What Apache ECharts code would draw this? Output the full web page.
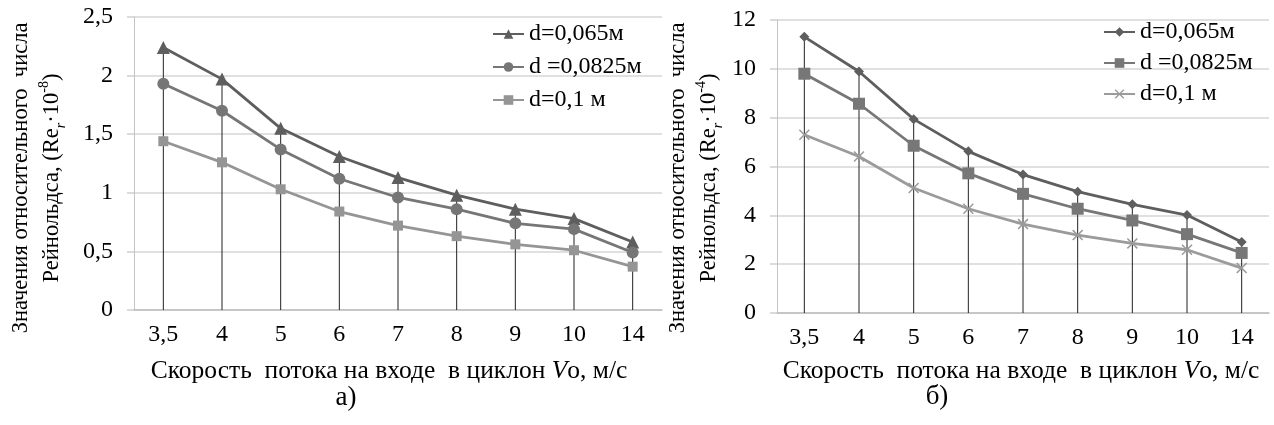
<!DOCTYPE html>
<html>
<head>
<meta charset="utf-8">
<script src="https://cdn.jsdelivr.net/npm/echarts@6/dist/echarts.min.js"></script>
<style>
html,body{margin:0;padding:0;background:#fff;}
#chart{width:1274px;height:425px;}
</style>
</head>
<body>
<div id="chart"></div>
<script>
// Categories: inlet flow velocity, m/s
const categories = ['3,5', '4', '5', '6', '7', '8', '9', '10', '14'];

// Chart a) Re·10^-8
const namesA = ['d=0,065м', 'd =0,0825м', 'd=0,1 м'];
const reA_d065  = [2.24, 1.97, 1.55, 1.31, 1.13, 0.98, 0.86, 0.78, 0.58];
const reA_d0825 = [1.93, 1.70, 1.37, 1.12, 0.96, 0.86, 0.74, 0.69, 0.49];
const reA_d01   = [1.44, 1.26, 1.03, 0.84, 0.72, 0.63, 0.56, 0.51, 0.37];
const yTicksA = ['0', '0,5', '1', '1,5', '2', '2,5'];

// Chart б) Re·10^-4
const namesB = ['d=0,065м ', 'd =0,0825м ', 'd=0,1 м '];
const reB_d065  = [11.31, 9.89, 7.94, 6.62, 5.67, 4.97, 4.45, 4.01, 2.91];
const reB_d0825 = [9.80, 8.57, 6.85, 5.72, 4.88, 4.27, 3.79, 3.23, 2.46];
const reB_d01   = [7.30, 6.41, 5.12, 4.27, 3.64, 3.19, 2.85, 2.59, 1.84];
const yTicksB = ['0', '2', '4', '6', '8', '10', '12'];

const FONT = 'Liberation Serif';
const crossPath = 'path://M0,1L1,0L5,4L9,0L10,1L6,5L10,9L9,10L5,6L1,10L0,9L4,5Z';

const chart = echarts.init(document.getElementById('chart'), null, {renderer: 'canvas'});

function xAxisCfg(gi) {
  return {
    type: 'category', gridIndex: gi, data: categories, boundaryGap: true,
    axisLine: {show: true, lineStyle: {color: '#bdbdbd', width: 1.5}},
    axisTick: {show: false},
    axisLabel: {color: '#000', fontFamily: FONT, fontSize: 24, margin: 13},
    splitLine: {show: false}
  };
}
function yAxisCfg(gi, max, interval, ticks) {
  return {
    type: 'value', gridIndex: gi, min: 0, max: max, interval: interval,
    axisLine: {show: true, lineStyle: {color: '#c4c4c4', width: 1}},
    axisTick: {show: true, inside: false, length: 7, lineStyle: {color: '#cfcfcf', width: 1.5}},
    axisLabel: {color: '#000', fontFamily: FONT, fontSize: 24, margin: 21,
      formatter: v => ticks[Math.round(v / interval)]},
    splitLine: {show: true, lineStyle: {color: '#d6d6d6', width: 1.5}}
  };
}
function lineSeries(name, data, gi, color, symbol, size) {
  return {
    type: 'line', name: name, data: data, xAxisIndex: gi, yAxisIndex: gi,
    symbol: symbol, symbolSize: size, showSymbol: true,
    lineStyle: {color: color, width: 2.8},
    itemStyle: {color: color},
    z: 3, animation: false
  };
}
function dropSeries(data, gi) {
  return {
    type: 'bar', name: 'drop' + gi, data: data, xAxisIndex: gi, yAxisIndex: gi,
    barWidth: 1, itemStyle: {color: '#222'}, z: 1, silent: true, animation: false
  };
}
const yTitleRich = {
  a: {fontFamily: FONT, fontSize: 22.5, color: '#000', lineHeight: 31},
  sub: {fontFamily: FONT, fontSize: 14, fontStyle: 'italic', color: '#000', verticalAlign: 'bottom', lineHeight: 31},
  sup: {fontFamily: FONT, fontSize: 14, color: '#000', verticalAlign: 'top', lineHeight: 31}
};
function yTitle(x, y, exp) {
  return {
    type: 'text', x: x, y: y, rotation: Math.PI / 2,
    style: {
      text: '{a|Значения относительного  числа}\n{a|Рейнольдса, (Re}{sub|r}{a|·10}{sup|' + exp + '}{a|)}',
      rich: yTitleRich, align: 'center', verticalAlign: 'middle'
    }
  };
}
function xTitle(x, y) {
  return {
    type: 'text', x: x, y: y,
    style: {
      text: '{n|Скорость  потока на входе  в циклон }{i|V}{n|o, м/с}',
      rich: {
        n: {fontFamily: FONT, fontSize: 25.5, color: '#000'},
        i: {fontFamily: FONT, fontSize: 25.5, fontStyle: 'italic', color: '#000'}
      },
      align: 'center', verticalAlign: 'middle'
    }
  };
}
function label(x, y, t) {
  return {type: 'text', x: x, y: y,
    style: {text: t, fontFamily: FONT, fontSize: 27, fill: '#000', align: 'center', verticalAlign: 'middle'}};
}

const legendText = {color: '#000', fontFamily: FONT, fontSize: 24, lineHeight: 24};

chart.setOption({
  backgroundColor: '#fff',
  animation: false,
  grid: [
    {left: 134, top: 17, width: 528, height: 293},
    {left: 777, top: 20, width: 492, height: 293}
  ],
  xAxis: [xAxisCfg(0), xAxisCfg(1)],
  yAxis: [yAxisCfg(0, 2.5, 0.5, yTicksA), yAxisCfg(1, 12, 2, yTicksB)],
  legend: [
    {data: namesA, orient: 'vertical', left: 487, top: 17, itemWidth: 31, itemHeight: 12,
      itemGap: 9, textStyle: legendText},
    {data: namesB, orient: 'vertical', left: 1098, top: 15, itemWidth: 31, itemHeight: 12,
      itemGap: 7, textStyle: legendText}
  ],
  series: [
    dropSeries(reA_d065, 0),
    lineSeries(namesA[0], reA_d065, 0, '#5e5e5e', 'triangle', 13),
    lineSeries(namesA[1], reA_d0825, 0, '#767676', 'circle', 12),
    lineSeries(namesA[2], reA_d01, 0, '#959595', 'rect', 10),
    dropSeries(reB_d065, 1),
    lineSeries(namesB[0], reB_d065, 1, '#5e5e5e', 'diamond', 10),
    lineSeries(namesB[1], reB_d0825, 1, '#777777', 'rect', 12),
    lineSeries(namesB[2], reB_d01, 1, '#9b9b9b', crossPath, 11)
  ],
  graphic: [
    yTitle(37, 178, '-8'),
    yTitle(694, 178, '-4'),
    xTitle(389, 371),
    xTitle(1021, 371),
    label(346, 398, 'а)'),
    label(937, 397, 'б)')
  ]
});
</script>
</body>
</html>
